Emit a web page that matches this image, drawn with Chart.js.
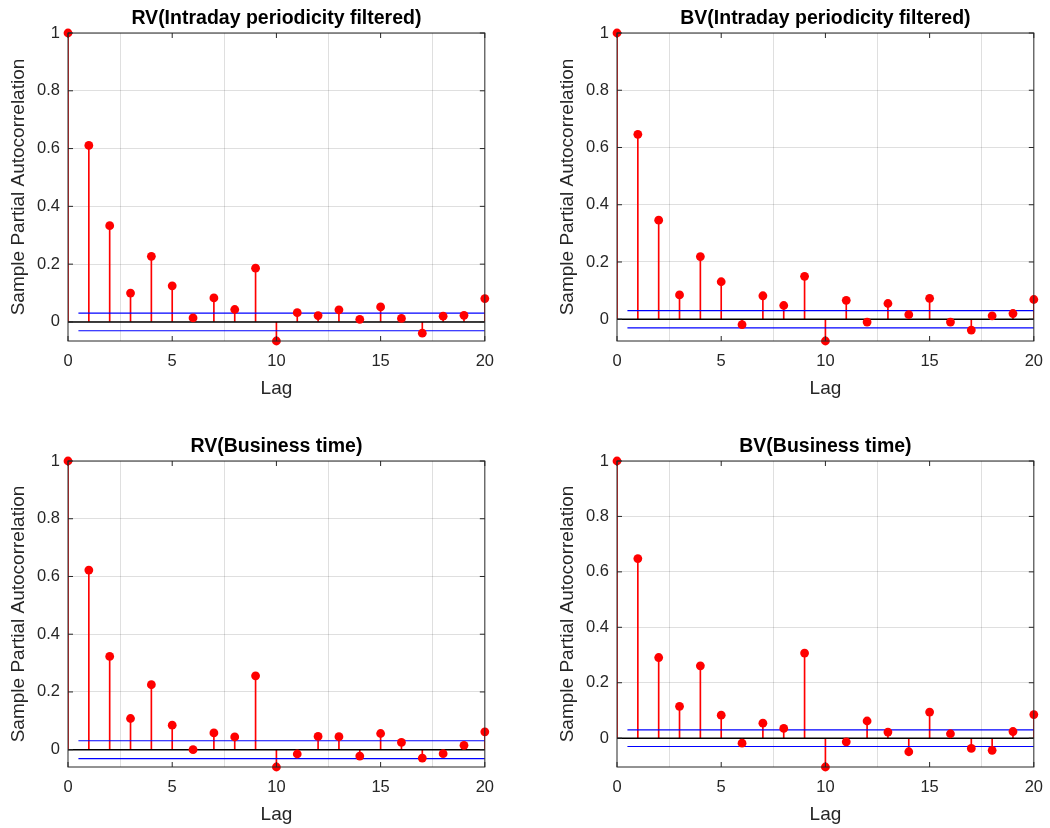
<!DOCTYPE html>
<html>
<head>
<meta charset="utf-8">
<script src="https://cdn.jsdelivr.net/npm/chart.js@4.4.1/dist/chart.umd.min.js"></script>
<style>
  body { margin: 0; background: #fff; width: 1050px; height: 828px; position: relative; overflow: hidden; }
  .panel { position: absolute; }
</style>
</head>
<body>
<div class="panel" style="left:0px;top:0px"><canvas id="c1" width="505" height="400"></canvas></div>
<div class="panel" style="left:549px;top:0px"><canvas id="c2" width="505" height="400"></canvas></div>
<div class="panel" style="left:0px;top:428px"><canvas id="c3" width="505" height="398"></canvas></div>
<div class="panel" style="left:549px;top:428px"><canvas id="c4" width="505" height="398"></canvas></div>
<script>
// lags 0..20
const lags = [0, 1, 2, 3, 4, 5, 6, 7, 8, 9, 10, 11, 12, 13, 14, 15, 16, 17, 18, 19, 20];

// sample partial autocorrelations
const rvFiltered = [1, 0.611, 0.333, 0.100, 0.227, 0.125, 0.014, 0.083, 0.043, 0.186, -0.066,
  0.032, 0.022, 0.042, 0.009, 0.052, 0.012, -0.039, 0.020, 0.023, 0.081];
const bvFiltered = [1, 0.646, 0.346, 0.085, 0.219, 0.131, -0.019, 0.082, 0.048, 0.150, -0.076,
  0.066, -0.010, 0.055, 0.016, 0.073, -0.010, -0.038, 0.012, 0.020, 0.069];
const rvBusiness = [1, 0.622, 0.323, 0.108, 0.225, 0.085, 0.000, 0.058, 0.044, 0.256, -0.060,
  -0.015, 0.046, 0.045, -0.022, 0.056, 0.025, -0.029, -0.014, 0.015, 0.062];
const bvBusiness = [1, 0.648, 0.291, 0.115, 0.261, 0.083, -0.018, 0.054, 0.035, 0.307, -0.104,
  -0.013, 0.062, 0.022, -0.049, 0.094, 0.016, -0.037, -0.044, 0.024, 0.085];

// confidence bounds (+/-)
const boundRvFiltered = 0.0305;
const boundBvFiltered = 0.030;
const boundRvBusiness = 0.031;
const boundBvBusiness = 0.030;

const yTicks = [0, 0.2, 0.4, 0.6, 0.8, 1];
const xTicks = [0, 5, 10, 15, 20];

const axisColor = "#262626";
const gridColor = "rgba(38,38,38,0.15)";
const fontFamily = "'Liberation Sans', Arial, sans-serif";

// box around the axes plus MATLAB-style inward ticks
const boxPlugin = {
  id: "box",
  afterDraw(chart) {
    const { ctx, chartArea: a, scales } = chart;
    ctx.save();
    ctx.strokeStyle = axisColor;
    ctx.lineWidth = 1;
    ctx.strokeRect(a.left, a.top, a.right - a.left, a.bottom - a.top);
    ctx.beginPath();
    xTicks.forEach(v => {
      const px = scales.x.getPixelForValue(v);
      ctx.moveTo(px, a.bottom); ctx.lineTo(px, a.bottom - 5);
      ctx.moveTo(px, a.top); ctx.lineTo(px, a.top + 5);
    });
    yTicks.forEach(v => {
      const py = scales.y.getPixelForValue(v);
      ctx.moveTo(a.left, py); ctx.lineTo(a.left + 5, py);
      ctx.moveTo(a.right, py); ctx.lineTo(a.right - 5, py);
    });
    ctx.stroke();
    ctx.restore();
  }
};

function makePanel(id, title, values, bound) {
  const pts = lags.map((l, i) => ({ x: l, y: values[i] }));
  const last = lags[lags.length - 1];
  new Chart(document.getElementById(id), {
    type: "scatter",
    data: {
      datasets: [
        {
          label: "pacf",
          data: pts,
          showLine: false,
          pointRadius: 4.4,
          pointHoverRadius: 4.4,
          pointBackgroundColor: "#ff0000",
          pointBorderColor: "#ff0000",
          pointBorderWidth: 0,
          clip: false
        },
        {
          type: "line",
          label: "upper",
          data: [{ x: 0.5, y: bound }, { x: last, y: bound }],
          borderColor: "#0000ff",
          borderWidth: 1.2,
          pointRadius: 0
        },
        {
          type: "line",
          label: "lower",
          data: [{ x: 0.5, y: -bound }, { x: last, y: -bound }],
          borderColor: "#0000ff",
          borderWidth: 1.2,
          pointRadius: 0
        },
        {
          type: "line",
          label: "zero",
          data: [{ x: 0, y: 0 }, { x: last, y: 0 }],
          borderColor: "#000000",
          borderWidth: 1.5,
          pointRadius: 0
        },
        {
          type: "bar",
          label: "stems",
          data: pts,
          backgroundColor: "#ff0000",
          borderWidth: 0,
          barThickness: 1
        }
      ]
    },
    options: {
      responsive: false,
      animation: false,
      devicePixelRatio: 1,
      layout: { padding: 0 },
      plugins: {
        legend: { display: false },
        tooltip: { enabled: false },
        title: { display: false }
      },
      scales: {
        // top axis only carries the panel title, centred over the plot box
        top: {
          type: "linear",
          position: "top",
          min: 0,
          max: last,
          afterFit: s => { s.height = 33; },
          ticks: { display: false },
          grid: { display: false, drawTicks: false },
          border: { display: false },
          title: {
            display: true,
            text: title,
            color: "#000",
            font: { family: fontFamily, size: 19.5, weight: "bold" },
            padding: { top: 6.8, bottom: 0 }
          }
        },
        x: {
          type: "linear",
          min: 0,
          max: last,
          offset: false,
          afterBuildTicks: s => { s.ticks = xTicks.map(v => ({ value: v })); },
          afterFit: s => { s.height = 59; },
          ticks: {
            color: axisColor,
            padding: 11,
            font: { family: fontFamily, size: 16.5 },
            maxRotation: 0
          },
          grid: { color: gridColor, drawTicks: false },
          border: { display: false },
          title: {
            display: true,
            text: "Lag",
            color: axisColor,
            font: { family: fontFamily, size: 19 },
            padding: { top: 0, bottom: 0 }
          }
        },
        y: {
          min: Math.min(...values),
          max: 1,
          afterBuildTicks: s => { s.ticks = yTicks.map(v => ({ value: v })); },
          afterFit: s => { s.width = 68; },
          ticks: {
            color: axisColor,
            padding: 8,
            font: { family: fontFamily, size: 16.5 },
            callback: v => String(Math.round(v * 10) / 10)
          },
          grid: { color: gridColor, drawTicks: false },
          border: { display: false },
          title: {
            display: true,
            text: "Sample Partial Autocorrelation",
            color: axisColor,
            font: { family: fontFamily, size: 19 },
            padding: { top: 7.5, bottom: 0 }
          }
        }
      }
    },
    plugins: [boxPlugin]
  });
}

makePanel("c1", "RV(Intraday periodicity filtered)", rvFiltered, boundRvFiltered);
makePanel("c2", "BV(Intraday periodicity filtered)", bvFiltered, boundBvFiltered);
makePanel("c3", "RV(Business time)", rvBusiness, boundRvBusiness);
makePanel("c4", "BV(Business time)", bvBusiness, boundBvBusiness);
</script>
</body>
</html>
